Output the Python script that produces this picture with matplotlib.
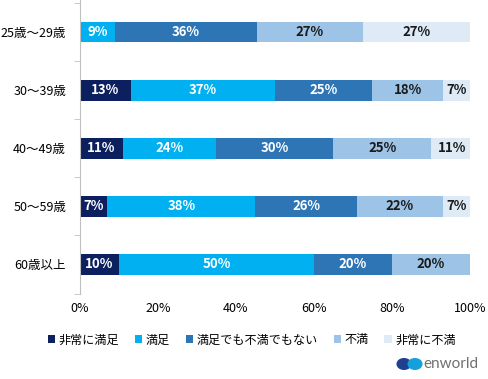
import matplotlib.pyplot as plt
import numpy as np
from matplotlib.patches import Circle

plt.rcParams['font.family'] = ['Noto Sans CJK JP', 'DejaVu Sans']

categories = ['25歳～29歳', '30～39歳', '40～49歳', '50～59歳', '60歳以上']
series = ['非常に満足', '満足', '満足でも不満でもない', '不満', '非常に不満']
v_very_sat = [0, 13, 11, 7, 10]
v_sat = [9, 37, 24, 38, 50]
v_neutral = [36.3, 25, 30, 26, 20]
v_dissat = [27.3, 18, 25, 22, 20]
v_very_dissat = [27.4, 7, 11, 7, 0]
values = [v_very_sat, v_sat, v_neutral, v_dissat, v_very_dissat]
colors = ['#0c1f5e', '#00b0f0', '#2e75b6', '#9dc3e6', '#deebf7']
text_colors = ['white', 'white', 'white', '#1a1a1a', '#1a1a1a']

fig = plt.figure(figsize=(4.89, 3.79), dpi=100)
ax = fig.add_axes([80 / 489, 1 - 293.5 / 379, 390 / 489, 293.5 / 379])

y = np.arange(len(categories))
left = np.zeros(len(categories))
for vals, name, c, tc in zip(values, series, colors, text_colors):
    vals = np.array(vals, dtype=float)
    ax.barh(y, vals, left=left, height=0.36, color=c, label=name)
    for yi, (l, v) in enumerate(zip(left, vals)):
        if v > 0:
            ax.text(l + v / 2, yi, f'{v:.0f}%', ha='center', va='center',
                    color=tc, fontsize=9.5, fontweight='bold')
    left += vals

ax.set_xlim(0, 100)
ax.set_ylim(len(categories) - 0.5, -0.55)
ax.set_yticks(y)
ax.set_yticklabels(categories, fontsize=9)
ax.set_yticks(np.arange(-0.5, len(categories)), minor=True)
ax.tick_params(axis='y', which='major', length=0, pad=10)
ax.tick_params(axis='y', which='minor', length=4, color='#bfbfbf')
ax.set_xticks(np.arange(0, 101, 20))
ax.set_xticklabels([f'{t}%' for t in range(0, 101, 20)], fontsize=9)
ax.tick_params(axis='x', length=0, pad=6)
for s in ['top', 'right', 'bottom']:
    ax.spines[s].set_visible(False)
ax.spines['left'].set_color('#bfbfbf')

fig.legend(loc='center', bbox_to_anchor=(0.515, 1 - 340 / 379), ncol=5,
           frameon=False, fontsize=8.7, handlelength=0.6, handleheight=0.6,
           handletextpad=0.3, columnspacing=1.3)

# logo
fig.patches.append(Circle((404 / 489, 1 - 364 / 379), 0.014, transform=fig.transFigure,
                          color='#1f3f8f'))
fig.patches.append(Circle((415 / 489, 1 - 364 / 379), 0.014, transform=fig.transFigure,
                          color='#14a0dc'))
fig.text(423 / 489, 1 - 364 / 379, 'enworld', fontsize=11, color='#707070',
         va='center', ha='left', family=['Lato', 'DejaVu Sans'])

fig.savefig('out.png', dpi=100)
